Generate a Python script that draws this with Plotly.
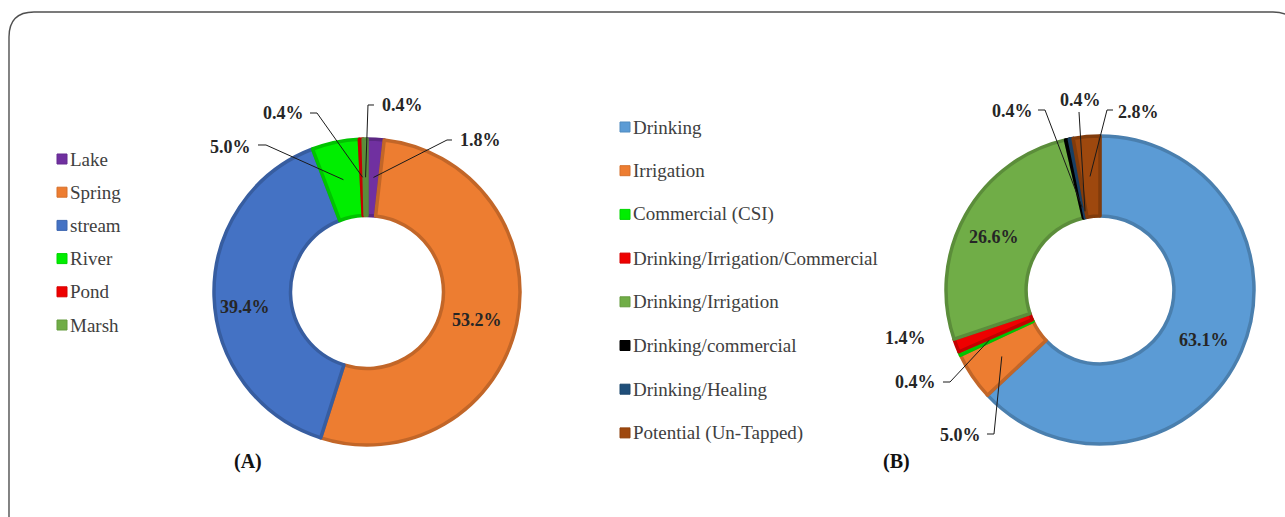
import math
import plotly.graph_objects as go

# ---- data -------------------------------------------------------------
source_labels = ["Lake", "Spring", "stream", "River", "Pond", "Marsh"]
source_values = [1.8, 53.2, 39.4, 5.0, 0.4, 0.4]
source_colors = ["#7030A0", "#ED7D31", "#4472C4", "#00EE00", "#EE0000", "#70AD47"]

use_labels = ["Drinking", "Irrigation", "Commercial (CSI)", "Drinking/Irrigation/Commercial",
              "Drinking/Irrigation", "Drinking/commercial", "Drinking/Healing",
              "Potential (Un-Tapped)"]
use_values = [63.1, 5.0, 0.4, 1.4, 26.6, 0.4, 0.4, 2.8]
use_colors = ["#5B9BD5", "#ED7D31", "#00EE00", "#EE0000", "#70AD47", "#000000",
              "#1F4E79", "#9E480E"]

# ---- page geometry (pixels) -------------------------------------------
W, H = 1285, 517


def px(x):
    return x / W


def py(y):
    return 1 - y / H


def darker(hex_color, f=0.82):
    r, g, b = (int(hex_color[i:i + 2], 16) for i in (1, 3, 5))
    return "rgb({},{},{})".format(int(r * f), int(g * f), int(b * f))


PIE_A = dict(cx=367, cy=292, r=153, hole=0.5)
PIE_B = dict(cx=1100, cy=290, r=154, hole=0.48)

LABEL_FONT = dict(family="Liberation Serif", size=18, color="#262626")
LEGEND_FONT = dict(family="Liberation Serif", size=19, color="#404040")

fig = go.Figure()


def add_donut(geo, labels, values, colors):
    cx, cy, r = geo["cx"], geo["cy"], geo["r"]
    fig.add_trace(go.Pie(
        labels=labels, values=values, sort=False, direction="clockwise", rotation=0,
        hole=geo["hole"], textinfo="none", showlegend=False,
        marker=dict(colors=colors, line=dict(color=[darker(c) for c in colors], width=3.5)),
        domain=dict(x=[px(cx - r), px(cx + r)], y=[py(cy + r), py(cy - r)]),
    ))


def slice_point(geo, values, idx, radius):
    """Pixel position at the angular middle of slice idx, at the given radius."""
    total = sum(values)
    start = sum(values[:idx])
    frac = (start + values[idx] / 2) / total
    ang = 2 * math.pi * frac
    return geo["cx"] + radius * math.sin(ang), geo["cy"] - radius * math.cos(ang)


def value_text(v):
    return "<b>{:.1f}%</b>".format(v)


def inner_label(geo, values, idx, nudge=(0, 0)):
    rmid = geo["r"] * (1 + geo["hole"]) / 2
    x, y = slice_point(geo, values, idx, rmid)
    fig.add_annotation(x=px(x + nudge[0]), y=py(y + nudge[1]), xref="paper", yref="paper",
                       text=value_text(values[idx]), showarrow=False, font=LABEL_FONT,
                       xanchor="center", yanchor="middle")


def callout(geo, values, idx, text_xy, elbow, radius_frac=None):
    """Label placed outside the ring with an elbowed leader line to the slice."""
    tx, ty = text_xy
    fig.add_annotation(x=px(tx), y=py(ty), xref="paper", yref="paper",
                       text=value_text(values[idx]), showarrow=False, font=LABEL_FONT,
                       xanchor="center", yanchor="middle")
    if elbow is None:
        return
    rad = geo["r"] * (radius_frac if radius_frac else (1 + geo["hole"]) / 2)
    ex, ey = slice_point(geo, values, idx, rad)
    pts = list(elbow) + [(ex, ey)]
    path = "M " + " L ".join("{:.5f},{:.5f}".format(px(a), py(b)) for a, b in pts)
    fig.add_shape(type="path", path=path, xref="paper", yref="paper",
                  line=dict(color="#1a1a1a", width=1))


def legend_block(labels, colors, x0, y0, step):
    for i, (lab, col) in enumerate(zip(labels, colors)):
        yc = y0 + i * step
        fig.add_shape(type="rect", xref="paper", yref="paper",
                      x0=px(x0), x1=px(x0 + 10), y0=py(yc + 5), y1=py(yc - 5),
                      fillcolor=col, line=dict(color=darker(col, 0.9), width=1))
        fig.add_annotation(x=px(x0 + 11), y=py(yc), xref="paper", yref="paper",
                           text=lab, showarrow=False, font=LEGEND_FONT,
                           xanchor="left", yanchor="middle")


# ---- donut A: water sources -------------------------------------------
add_donut(PIE_A, source_labels, source_values, source_colors)
inner_label(PIE_A, source_values, 2, nudge=(-7, 12))
inner_label(PIE_A, source_values, 1, nudge=(-2, 4))
callout(PIE_A, source_values, 4, (283, 113), [(310, 113), (317, 113)])
callout(PIE_A, source_values, 5, (402, 105), [(374, 105), (368, 105)])
callout(PIE_A, source_values, 0, (480, 140), [(452, 140), (447, 140)])
callout(PIE_A, source_values, 3, (230, 147), [(258, 145), (266, 145)])
legend_block(source_labels, source_colors, 57, 159, 33.2)

# ---- donut B: water uses ----------------------------------------------
add_donut(PIE_B, use_labels, use_values, use_colors)
inner_label(PIE_B, use_values, 0, nudge=(-1, 5))
inner_label(PIE_B, use_values, 4, nudge=(-7, 3))
callout(PIE_B, use_values, 5, (1012, 111), [(1038, 110), (1045, 110)], radius_frac=0.55)
callout(PIE_B, use_values, 6, (1080, 100), [(1079, 112)], radius_frac=0.52)
callout(PIE_B, use_values, 7, (1138, 112), [(1113, 110), (1107, 110)])
callout(PIE_B, use_values, 2, (915, 382), [(943, 382), (950, 382)], radius_frac=0.79)
callout(PIE_B, use_values, 1, (960, 435), [(987, 434), (994, 434)], radius_frac=0.77)
callout(PIE_B, use_values, 3, (905, 338), None)
legend_block(use_labels, use_colors, 620, 127, 43.7)

# ---- panel captions -----------------------------------------------------
for cap, x in (("(A)", 248), ("(B)", 896)):
    fig.add_annotation(x=px(x), y=py(461), xref="paper", yref="paper",
                       text="<b>{}</b>".format(cap), showarrow=False,
                       font=dict(family="Liberation Serif", size=20, color="#111111"),
                       xanchor="center", yanchor="middle")

# ---- rounded frame (runs off the right and bottom edges) ---------------
path = "M {:.5f},{:.5f} L {:.5f},{:.5f}".format(px(9), py(530), px(9), py(37))
path += " Q {:.5f},{:.5f} {:.5f},{:.5f}".format(px(9), py(12), px(34), py(12))
path += " L {:.5f},{:.5f}".format(px(1273), py(12))
path += " Q {:.5f},{:.5f} {:.5f},{:.5f}".format(px(1290), py(12), px(1298), py(25))
fig.add_shape(type="path", path=path, xref="paper", yref="paper",
              line=dict(color="#505050", width=1.4))

fig.update_layout(
    width=W, height=H,
    margin=dict(l=0, r=0, t=0, b=0),
    paper_bgcolor="white", plot_bgcolor="white",
    showlegend=False,
)

fig.write_html("out.html")
